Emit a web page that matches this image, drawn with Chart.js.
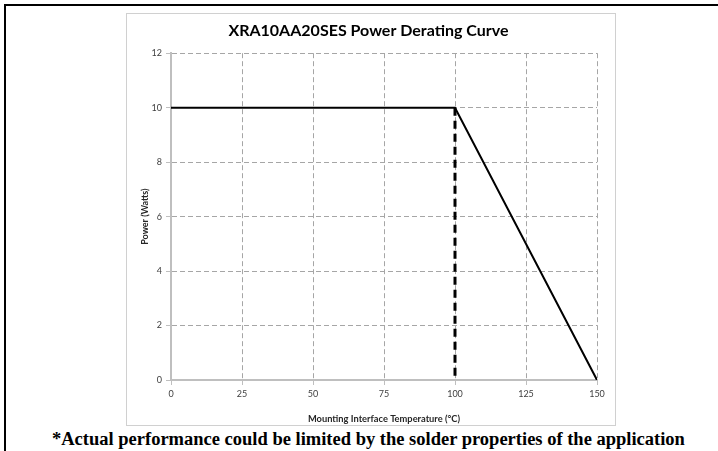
<!DOCTYPE html>
<html>
<head>
<meta charset="utf-8">
<script src="https://cdn.jsdelivr.net/npm/chart.js@4/dist/chart.umd.min.js"></script>
<style>
  body { margin: 0; background: #fff; width: 718px; height: 451px; position: relative; overflow: hidden; }
  #frame { position: absolute; left: 4px; top: 4px; width: 800px; height: 600px; border: 2px solid #000; box-sizing: border-box; }
  #box { position: absolute; left: 126px; top: 13px; width: 490px; height: 413px; border: 1px solid #d0d0d0; box-sizing: border-box; }
  #chartWrap { position: absolute; left: 127px; top: 14px; width: 488px; height: 411px; }
  #note { position: absolute; left: 52px; top: 429px; font-family: "Liberation Serif", "Times New Roman", serif; font-weight: bold; font-size: 18.5px; line-height: 21px; color: #000; white-space: nowrap; }
</style>
</head>
<body>
<div id="frame"></div>
<div id="box"></div>
<div id="chartWrap"><canvas id="derating" width="488" height="411"></canvas></div>
<div id="note">*Actual performance could be limited by the solder properties of the application</div>
<script>
// derating curve (temperature in degC, power in W)
var curveTemp = [0, 100, 150];
var curvePower = [10, 10, 0];
// dashed marker at the knee
var kneeTemp = [100, 100];
var kneePower = [10, 0];
var xTicks = [0, 25, 50, 75, 100, 125, 150];
var yTicks = [0, 2, 4, 6, 8, 10, 12];

function pts(xs, ys) {
    return xs.map(function (x, i) { return { x: x, y: ys[i] }; });
}

var gridColor = '#a6a6a6';
var ctx = document.getElementById("derating");
new Chart(ctx, {
    type: 'line',
    data: {
        datasets: [{
            label: 'Power',
            data: pts(curveTemp, curvePower),
            borderColor: '#000',
            borderWidth: 2,
            pointRadius: 0,
            tension: 0
        }, {
            label: 'Knee',
            data: pts(kneeTemp, kneePower),
            borderColor: '#000',
            borderWidth: 3,
            borderDash: [8, 5],
            pointRadius: 0
        }]
    },
    options: {
        responsive: false,
        animation: false,
        layout: { padding: { left: 13, right: 18, top: 0, bottom: 0 } },
        plugins: {
            legend: { display: false },
            tooltip: { enabled: false },
            title: {
                display: true,
                text: 'XRA10AA20SES Power Derating Curve',
                color: '#000',
                font: { family: 'Lato', size: 16, weight: 'bold' },
                padding: { top: 7, bottom: 13 }
            }
        },
        scales: {
            x: {
                type: 'linear',
                min: 0,
                max: 150,
                afterBuildTicks: function (s) { s.ticks = xTicks.map(function (v) { return { value: v }; }); },
                afterFit: function (s) { s.height = 45; },
                grid: { color: gridColor, lineWidth: 1, tickLength: 5, tickColor: '#bfbfbf' },
                border: { color: '#bfbfbf', width: 2, dash: [5, 3] },
                ticks: { color: '#404040', font: { family: 'Lato', size: 9 }, padding: 4, maxRotation: 0 },
                title: {
                    display: true,
                    text: 'Mounting Interface Temperature (°C)',
                    color: '#262626',
                    font: { family: 'Lato', size: 9.3, weight: 'bold' },
                    padding: { top: 2, bottom: 0 }
                }
            },
            y: {
                min: 0,
                max: 12,
                afterBuildTicks: function (s) { s.ticks = yTicks.map(function (v) { return { value: v }; }); },
                afterFit: function (s) { s.width = 31; },
                grid: { color: gridColor, lineWidth: 1, tickLength: 5, tickColor: '#bfbfbf' },
                border: { color: '#bfbfbf', width: 2, dash: [5, 3] },
                ticks: { color: '#404040', font: { family: 'Lato', size: 9 }, padding: 4 },
                title: {
                    display: true,
                    text: 'Power (Watts)',
                    color: '#262626',
                    font: { family: 'Lato', size: 9, weight: 'bold' },
                    padding: { top: 0, bottom: 2 }
                }
            }
        }
    }
});
</script>
</body>
</html>
